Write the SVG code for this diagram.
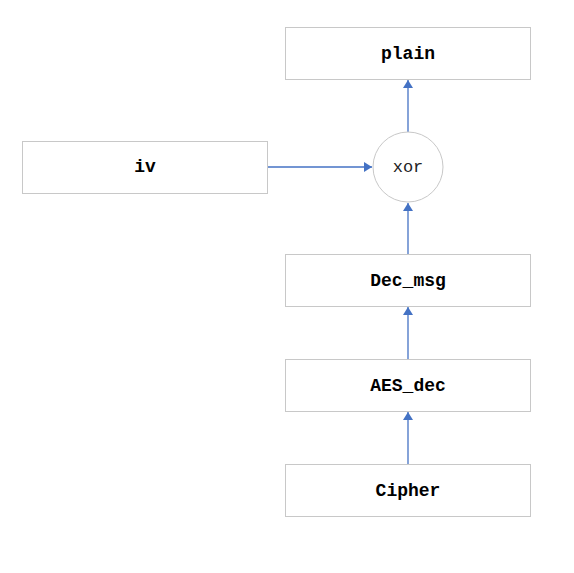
<svg xmlns="http://www.w3.org/2000/svg" width="574" height="573" viewBox="0 0 574 573">
<style>
.box{fill:#fff;stroke:#c8c8c8;stroke-width:1}
.lbl{font-family:"Liberation Mono","DejaVu Sans Mono",monospace;font-size:18px;font-weight:bold;fill:#000;text-anchor:middle;dominant-baseline:central}
.lbl2{font-family:"Liberation Mono","DejaVu Sans Mono",monospace;font-size:17px;fill:#222;text-anchor:middle;dominant-baseline:central}
.edge{stroke:#4472c4;stroke-width:1.3;fill:none;marker-end:url(#ah)}
</style>
<defs>
<marker id="ah" markerWidth="8" markerHeight="10" refX="8" refY="5" orient="auto" markerUnits="userSpaceOnUse">
<path d="M0,0 L8,5 L0,10 Z" fill="#4472c4"/>
</marker>
</defs>
<rect width="574" height="573" fill="#fff"/>
<g id="connectors">
<line class="edge" x1="408" y1="132" x2="408" y2="80"/>
<line class="edge" x1="267" y1="167" x2="372" y2="167"/>
<line class="edge" x1="408" y1="254" x2="408" y2="203"/>
<line class="edge" x1="408" y1="359" x2="408" y2="307"/>
<line class="edge" x1="408" y1="464" x2="408" y2="412"/>
</g>
<g id="plain"><rect class="box" x="285.5" y="27.5" width="245" height="52"/><text class="lbl" x="408" y="54">plain</text></g>
<g id="iv"><rect class="box" x="22.5" y="141.5" width="245" height="52"/><text class="lbl" x="145" y="167">iv</text></g>
<g id="xor"><circle class="box" cx="408" cy="167" r="35"/><text class="lbl2" x="408" y="167">xor</text></g>
<g id="dec_msg"><rect class="box" x="285.5" y="254.5" width="245" height="52"/><text class="lbl" x="408" y="281">Dec_msg</text></g>
<g id="aes_dec"><rect class="box" x="285.5" y="359.5" width="245" height="52"/><text class="lbl" x="408" y="386">AES_dec</text></g>
<g id="cipher"><rect class="box" x="285.5" y="464.5" width="245" height="52"/><text class="lbl" x="408" y="491">Cipher</text></g>
</svg>
